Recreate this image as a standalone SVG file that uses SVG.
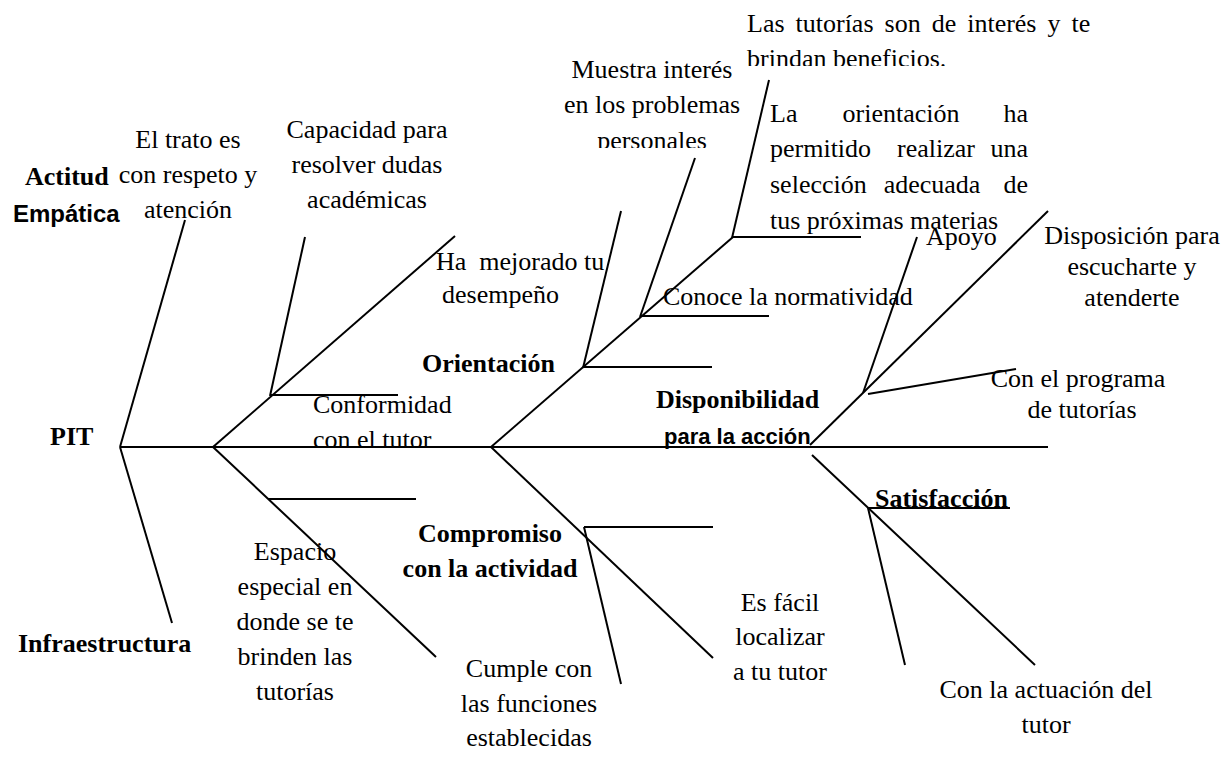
<svg xmlns="http://www.w3.org/2000/svg" width="1225" height="764" viewBox="0 0 1225 764">
<style>
.ln{stroke:#000;stroke-width:2;fill:none;stroke-linecap:butt}
.t{font-family:"Liberation Serif","Times New Roman",serif;font-size:26px;fill:#000}
.b{font-family:"Liberation Serif","Times New Roman",serif;font-size:26px;font-weight:bold;fill:#000}
.s{font-family:"Liberation Sans",Arial,sans-serif;font-weight:bold;fill:#000}
.m{text-anchor:middle}
.e{text-anchor:end}
</style>
<defs>
<clipPath id="cp1"><rect x="540" y="0" width="220" height="148"/></clipPath>
<clipPath id="cp2"><rect x="730" y="0" width="400" height="66"/></clipPath>
</defs>
<rect width="1225" height="764" fill="#fff"/>
<g id="connectors">
<line class="ln" x1="120" y1="447" x2="1048" y2="447"/>
<line class="ln" x1="120" y1="447" x2="185" y2="220"/>
<line class="ln" x1="120" y1="447" x2="172" y2="623"/>
<line class="ln" x1="213" y1="447" x2="455" y2="236"/>
<line class="ln" x1="270" y1="396" x2="305" y2="237"/>
<line class="ln" x1="270" y1="395" x2="398" y2="395"/>
<line class="ln" x1="213" y1="447" x2="436" y2="657"/>
<line class="ln" x1="268" y1="499" x2="416" y2="499"/>
<line class="ln" x1="491" y1="447" x2="733" y2="237"/>
<line class="ln" x1="583" y1="368" x2="621" y2="211"/>
<line class="ln" x1="583" y1="367" x2="712" y2="367"/>
<line class="ln" x1="640" y1="317" x2="695" y2="158"/>
<line class="ln" x1="640" y1="316" x2="769" y2="316"/>
<line class="ln" x1="732" y1="238" x2="769" y2="80"/>
<line class="ln" x1="732" y1="237" x2="861" y2="237"/>
<line class="ln" x1="491" y1="447" x2="713" y2="658"/>
<line class="ln" x1="584" y1="527" x2="713" y2="527"/>
<line class="ln" x1="584" y1="527" x2="621" y2="684"/>
<line class="ln" x1="810" y1="445" x2="1048" y2="211"/>
<line class="ln" x1="863" y1="393" x2="917" y2="237"/>
<line class="ln" x1="868" y1="394" x2="1016" y2="369"/>
<line class="ln" x1="812" y1="455" x2="1035" y2="665"/>
<line class="ln" x1="868" y1="508" x2="905" y2="665"/>
<line class="ln" x1="868" y1="508" x2="1010" y2="508"/>
</g>
<g id="pit"><text class="b" x="50" y="445">PIT</text></g>
<g id="actitud">
<text class="b" x="25" y="185">Actitud</text>
<text class="s" font-size="24" x="13" y="222">Empática</text>
</g>
<g id="trato">
<text class="t m" x="188" y="148">El trato es</text>
<text class="t m" x="188" y="183">con respeto y</text>
<text class="t m" x="188" y="218">atención</text>
</g>
<g id="capacidad">
<text class="t m" x="367" y="138">Capacidad para</text>
<text class="t m" x="367" y="173">resolver dudas</text>
<text class="t m" x="367" y="208">académicas</text>
</g>
<g id="mejorado">
<text class="t" x="436" y="270" xml:space="preserve">Ha  mejorado tu</text>
<text class="t" x="442" y="303">desempeño</text>
</g>
<g id="conformidad">
<text class="t" x="313" y="413">Conformidad</text>
<text class="t" x="313" y="448">con el tutor</text>
</g>
<g id="orientacion"><text class="b" x="422" y="372">Orientación</text></g>
<g id="muestra">
<text class="t m" x="652" y="78">Muestra interés</text>
<text class="t m" x="652" y="113">en los problemas</text>
<text class="t m" x="652" y="149" clip-path="url(#cp1)">personales</text>
</g>
<g id="tutorias-interes">
<text class="t" x="747" y="32" word-spacing="4.5">Las tutorías son de interés y te</text>
<text class="t" x="747" y="67" clip-path="url(#cp2)">brindan beneficios.</text>
</g>
<g id="la-orientacion">
<text class="t" x="770" y="122">La</text>
<text class="t m" x="901" y="122">orientación</text>
<text class="t e" x="1028" y="122">ha</text>
<text class="t" x="770" y="157">permitido</text>
<text class="t m" x="936" y="157">realizar</text>
<text class="t e" x="1028" y="157">una</text>
<text class="t" x="770" y="193">selección</text>
<text class="t m" x="932" y="193">adecuada</text>
<text class="t e" x="1028" y="193">de</text>
<text class="t" x="770" y="229">tus próximas materias</text>
</g>
<g id="normatividad"><text class="t" x="663" y="305">Conoce la normatividad</text></g>
<g id="apoyo"><text class="t" x="926" y="245">Apoyo</text></g>
<g id="disposicion">
<text class="t m" x="1132" y="244">Disposición para</text>
<text class="t m" x="1132" y="275">escucharte y</text>
<text class="t m" x="1132" y="306">atenderte</text>
</g>
<g id="programa">
<text class="t m" x="1078" y="387">Con el programa</text>
<text class="t m" x="1082" y="418">de tutorías</text>
</g>
<g id="disponibilidad">
<text class="b" x="656" y="408">Disponibilidad</text>
<text class="s" font-size="22" x="664" y="444">para la acción</text>
</g>
<g id="satisfaccion"><text class="b" x="875" y="507">Satisfacción</text></g>
<g id="actuacion">
<text class="t m" x="1046" y="698">Con la actuación del</text>
<text class="t m" x="1046" y="733">tutor</text>
</g>
<g id="compromiso">
<text class="b m" x="490" y="542">Compromiso</text>
<text class="b m" x="490" y="577">con la actividad</text>
</g>
<g id="facil">
<text class="t m" x="780" y="611">Es fácil</text>
<text class="t m" x="780" y="645">localizar</text>
<text class="t m" x="780" y="680">a tu tutor</text>
</g>
<g id="cumple">
<text class="t m" x="529" y="677">Cumple con</text>
<text class="t m" x="529" y="712">las funciones</text>
<text class="t m" x="529" y="746">establecidas</text>
</g>
<g id="espacio">
<text class="t m" x="295" y="560">Espacio</text>
<text class="t m" x="295" y="595">especial en</text>
<text class="t m" x="295" y="630">donde se te</text>
<text class="t m" x="295" y="665">brinden las</text>
<text class="t m" x="295" y="700">tutorías</text>
</g>
<g id="infraestructura"><text class="b" x="18" y="652">Infraestructura</text></g>
</svg>
